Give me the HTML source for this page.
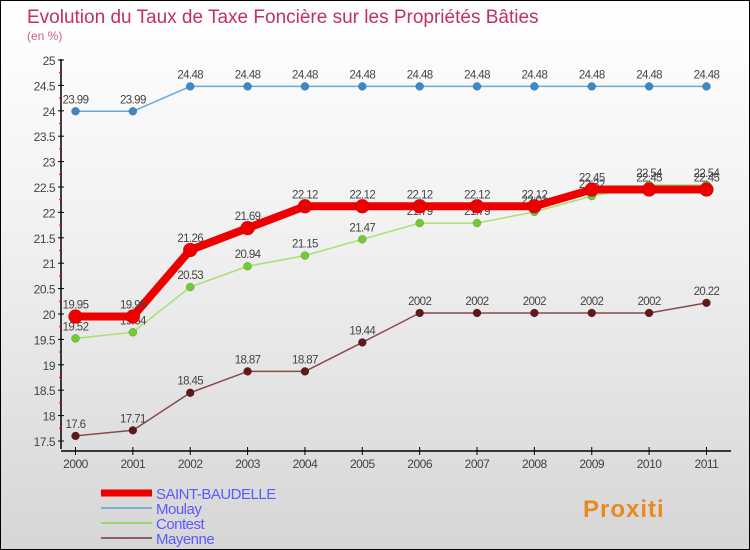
<!DOCTYPE html>
<html><head><meta charset="utf-8"><style>
html,body{margin:0;padding:0}
body{width:750px;height:550px;overflow:hidden;font-family:"Liberation Sans","DejaVu Sans",sans-serif}
#wrap{position:relative;width:748px;height:548px;border:1px solid #000;background:linear-gradient(#fff 0%,#f2f2f2 40%,#d6d6d6 100%)}
</style></head><body>
<div id="wrap">
<svg id="chart" width="748" height="548" style="position:absolute;left:0;top:0"></svg>
</div>
<script>
const years=["2000","2001","2002","2003","2004","2005","2006","2007","2008","2009","2010","2011"];
const yTicks=[17.5,18,18.5,19,19.5,20,20.5,21,21.5,22,22.5,23,23.5,24,24.5,25];
const sbVals=[19.95,19.95,21.26,21.69,22.12,22.12,22.12,22.12,22.12,22.45,22.45,22.45];
const moulayVals=[23.99,23.99,24.48,24.48,24.48,24.48,24.48,24.48,24.48,24.48,24.48,24.48];
const contestVals=[19.52,19.64,20.53,20.94,21.15,21.47,21.79,21.79,22.01,22.32,22.54,22.54];
const mayenneVals=[17.6,17.71,18.45,18.87,18.87,19.44,20.02,20.02,20.02,20.02,20.02,20.22];
const mayenneLabels=["17.6","17.71","18.45","18.87","18.87","19.44","2002","2002","2002","2002","2002","20.22"];
const sbLabels=sbVals.map(String), moulayLabels=moulayVals.map(String), contestLabels=contestVals.map(String);

const NS="http://www.w3.org/2000/svg";
const svg=document.getElementById('chart');
function X(i){return 74.5+i*57.36;}
function Y(v){return 59+(25-v)*50.8;}
function el(t,a,p){const e=document.createElementNS(NS,t);for(const k in a)e.setAttribute(k,a[k]);(p||svg).appendChild(e);return e;}
function txt(x,y,s,a){const e=el('text',Object.assign({x:x,y:y},a));e.textContent=s;return e;}

const title=txt(26,22,"Evolution du Taux de Taxe Foncière sur les Propriétés Bâties",{fill:"#c03060","font-size":"19"});


const sub=txt(26,39,"(en %)",{fill:"#c86090","font-size":"12"});



const ax=el('g',{});


el('line',{x1:60,y1:58,x2:60,y2:448,stroke:"#000","stroke-width":1.5},ax);
el('line',{x1:60,y1:450,x2:730,y2:450,stroke:"#000","stroke-width":1.5},ax);
yTicks.forEach((v,k)=>{
  const y=Y(v);
  el('line',{x1:57,y1:y,x2:63,y2:y,stroke:"#000"},ax);
  if(k<yTicks.length-1) el('line',{x1:58,y1:y-12.7,x2:61,y2:y-12.7,stroke:"#e00"},ax);
  const t=txt(54,y+5,String(v),{fill:"#444","font-size":"12","text-anchor":"end","letter-spacing":"-0.5"},ax);
  
  
});
years.forEach((yr,i)=>{
  el('line',{x1:X(i),y1:446,x2:X(i),y2:454,stroke:"#000"},ax);
  const t=txt(X(i),467,yr,{fill:"#444","font-size":"12","text-anchor":"middle","letter-spacing":"-0.5"},ax);
  
  
});

function series(name,vals,labels,color,dot,lw,r){
  const g=el('g',{});
  
  
  el('polyline',{points:vals.map((v,i)=>X(i)+','+Y(v)).join(' '),fill:"none",stroke:color,"stroke-width":lw,"stroke-linejoin":"round"},g);
  vals.forEach((v,i)=>{
    const c=el('circle',{cx:X(i),cy:Y(v),r:r,fill:dot,stroke:"rgba(0,0,0,0.3)","stroke-width":0.5},g);
    
    
    const t=txt(X(i),Y(v)-8,labels[i],{fill:"#444","font-size":"11.5","text-anchor":"middle","letter-spacing":"-0.6"},g);
    
    
  });
}
series('moulay',moulayVals,moulayLabels,"#6aa8d8","#3d88c8",1.5,4);
series('mayenne',mayenneVals,mayenneLabels,"#8a4a4a","#601818",1.5,4);
series('contest',contestVals,contestLabels,"#a8e070","#70cc30",1.5,4);
series('saint-baudelle',sbVals,sbLabels,"#ee0000","#ee0000",8,7);

const lg=el('g',{});


const items=[["SAINT-BAUDELLE","#ee0000",7],["Moulay","#78aed0",2],["Contest","#9ad870",2],["Mayenne","#906060",2]];
items.forEach((it,k)=>{
  const y=492+k*15;
  const e=el('g',{},lg);
  
  
  el('line',{x1:100,y1:y,x2:151,y2:y,stroke:it[1],"stroke-width":it[2]},e);
  txt(155,y+6,it[0],{fill:"#5a5aff","font-size":"15","letter-spacing":"-0.5"},e);
});
const logo=el('g',{});


txt(582,516,"Proxiti",{fill:"#e88a20","font-size":"24","font-weight":"bold","letter-spacing":"1"},logo);
</script>
</body></html>
